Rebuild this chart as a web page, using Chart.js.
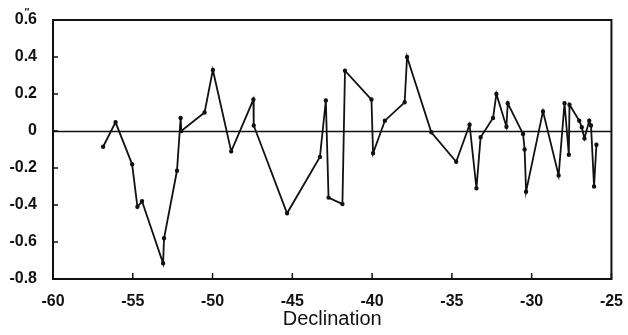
<!DOCTYPE html>
<html>
<head>
<meta charset="utf-8">
<script src="https://cdn.jsdelivr.net/npm/chart.js@4/dist/chart.umd.min.js"></script>
<style>
  html, body { margin: 0; padding: 0; background: #fff; }
  #wrap { width: 628px; height: 335px; }
</style>
</head>
<body>
<div id="wrap"><canvas id="chart" width="628" height="335"></canvas></div>
<script>
// 赤緯 (deg)
const declination = [
  -56.86, -56.08, -55.04, -54.71, -54.42, -53.10, -53.04, -52.23, -52.00, -51.96,
  -50.50, -49.98, -48.83, -47.44, -47.42, -45.33, -43.27, -42.90, -42.73, -41.86,
  -41.70, -40.04, -39.94, -39.20, -37.96, -37.81, -36.29, -34.73, -33.89, -33.46,
  -33.20, -32.42, -32.21, -31.58, -31.50, -30.54, -30.44, -30.35, -29.29, -28.31,
  -27.94, -27.67, -27.63, -27.02, -26.86, -26.69, -26.39, -26.28, -26.09, -25.94
];
// 残差 (arcsec)
const residual = [
  -0.085, 0.047, -0.18, -0.41, -0.38, -0.715, -0.58, -0.215, 0.07, 0.0,
  0.10, 0.33, -0.11, 0.17, 0.03, -0.445, -0.14, 0.165, -0.36, -0.395,
  0.326, 0.17, -0.12, 0.056, 0.155, 0.40, -0.007, -0.166, 0.034, -0.31,
  -0.034, 0.07, 0.20, 0.023, 0.15, -0.016, -0.10, -0.328, 0.106, -0.24,
  0.15, -0.128, 0.142, 0.056, 0.02, -0.04, 0.056, 0.03, -0.30, -0.074
];
const xTicks = [-60, -55, -50, -45, -40, -35, -30, -25];
const yTicks = [-0.8, -0.6, -0.4, -0.2, 0, 0.2, 0.4, 0.6];

const ink = "#111";
const tickFont = { family: "'Liberation Sans', Arial, sans-serif", size: 16, weight: "bold" };

// 枠・内向き目盛り・0の線
const framePlugin = {
  id: "frame",
  afterDatasetsDraw(c) {
    const { ctx, chartArea: a, scales } = c;
    ctx.save();
    ctx.strokeStyle = ink;
    // 0 line
    ctx.lineWidth = 1.5;
    const y0 = Math.round(scales.y.getPixelForValue(0)) + 0.5;
    ctx.beginPath();
    ctx.moveTo(a.left, y0);
    ctx.lineTo(a.right, y0);
    ctx.stroke();
    // ticks
    ctx.lineWidth = 1.5;
    ctx.beginPath();
    xTicks.forEach(v => {
      const x = scales.x.getPixelForValue(v);
      ctx.moveTo(x, a.bottom);
      ctx.lineTo(x, a.bottom - 6);
    });
    yTicks.forEach(v => {
      const y = scales.y.getPixelForValue(v);
      ctx.moveTo(a.left, y);
      ctx.lineTo(a.left + 5, y);
    });
    ctx.stroke();
    // box
    ctx.lineWidth = 2;
    ctx.strokeRect(a.left, a.top, a.right - a.left, a.bottom - a.top);
    // arcsec mark on 0.6
    ctx.fillStyle = ink;
    ctx.font = "bold 10px 'Liberation Sans', Arial, sans-serif";
    ctx.textAlign = "center";
    ctx.fillText("\u2033", 27, scales.y.getPixelForValue(0.6) - 4);
    ctx.restore();
  }
};

new Chart(document.getElementById("chart"), {
  type: "scatter",
  data: {
    datasets: [{
      data: declination.map((d, i) => ({ x: d, y: residual[i] })),
      showLine: true,
      borderColor: ink,
      backgroundColor: ink,
      borderWidth: 1.8,
      pointRadius: 1.3,
      pointHoverRadius: 1.3,
      tension: 0
    }]
  },
  options: {
    responsive: false,
    animation: false,
    layout: { padding: { top: 20, right: 0, left: 0, bottom: 0 } },
    plugins: { legend: { display: false }, tooltip: { enabled: false } },
    scales: {
      x: {
        type: "linear",
        min: -60, max: -25,
        afterBuildTicks: s => { s.ticks = xTicks.map(v => ({ value: v })); },
        afterFit: s => { s.height = 56; },
        grid: { display: false },
        border: { display: false },
        ticks: { color: ink, padding: 5, font: tickFont },
        title: {
          display: true,
          text: "Declination",
          color: ink,
          padding: { top: -2 },
          font: { family: "'Liberation Sans', Arial, sans-serif", size: 20 }
        }
      },
      y: {
        min: -0.8, max: 0.6,
        afterBuildTicks: s => { s.ticks = yTicks.map(v => ({ value: v })); },
        afterFit: s => { s.width = 53; },
        grid: { display: false },
        border: { display: false },
        ticks: {
          color: ink,
          padding: 8,
          callback: v => (Math.abs(v) < 1e-9 ? "0" : v.toFixed(1)),
          font: tickFont
        }
      }
    }
  },
  plugins: [framePlugin]
});
</script>
</body>
</html>
